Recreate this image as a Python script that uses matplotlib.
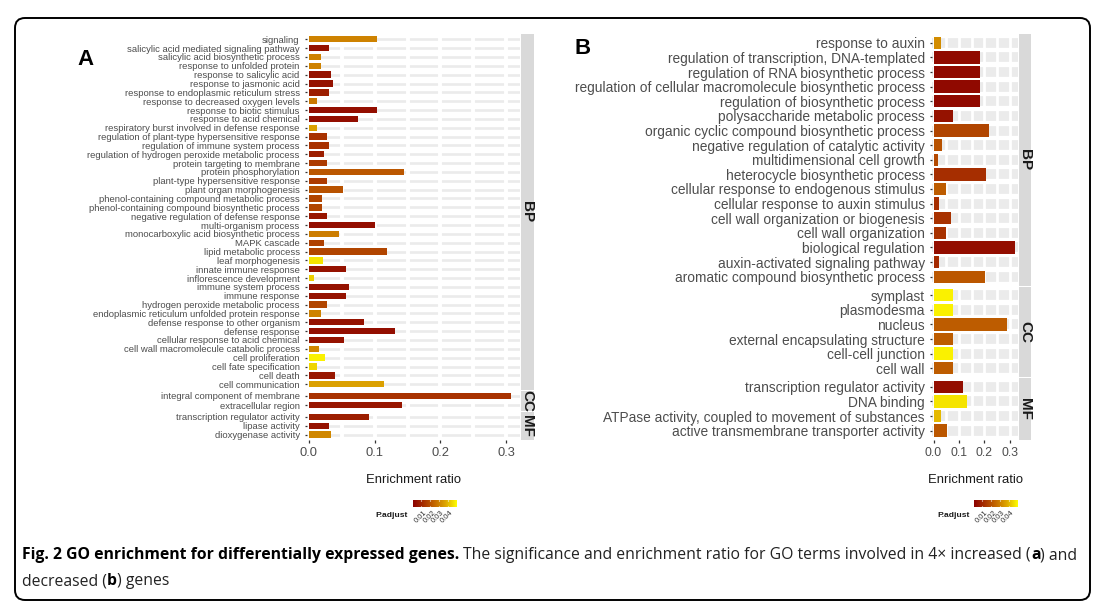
import numpy as np
import matplotlib
matplotlib.use("Agg")
import matplotlib.pyplot as plt
from matplotlib.colors import LinearSegmentedColormap, Normalize
from matplotlib.patches import FancyBboxPatch
from matplotlib.transforms import blended_transform_factory

W, H = 1105, 615

# ---- panel A (4x increased genes) ----
a_bp_terms = ["signaling", "salicylic acid mediated signaling pathway",
              "salicylic acid biosynthetic process", "response to unfolded protein",
              "response to salicylic acid", "response to jasmonic acid",
              "response to endoplasmic reticulum stress", "response to decreased oxygen levels",
              "response to biotic stimulus", "response to acid chemical",
              "respiratory burst involved in defense response",
              "regulation of plant-type hypersensitive response",
              "regulation of immune system process",
              "regulation of hydrogen peroxide metabolic process",
              "protein targeting to membrane", "protein phosphorylation",
              "plant-type hypersensitive response", "plant organ morphogenesis",
              "phenol-containing compound metabolic process",
              "phenol-containing compound biosynthetic process",
              "negative regulation of defense response", "multi-organism process",
              "monocarboxylic acid biosynthetic process", "MAPK cascade",
              "lipid metabolic process", "leaf morphogenesis", "innate immune response",
              "inflorescence development", "immune system process", "immune response",
              "hydrogen peroxide metabolic process",
              "endoplasmic reticulum unfolded protein response",
              "defense response to other organism", "defense response",
              "cellular response to acid chemical",
              "cell wall macromolecule catabolic process", "cell proliferation",
              "cell fate specification", "cell death", "cell communication"]
a_bp_ratio = [0.103, 0.031, 0.018, 0.018, 0.033, 0.037, 0.031, 0.012, 0.103, 0.075,
              0.012, 0.028, 0.031, 0.023, 0.028, 0.145, 0.028, 0.051, 0.020, 0.020,
              0.028, 0.100, 0.045, 0.023, 0.119, 0.022, 0.056, 0.008, 0.061, 0.056,
              0.028, 0.018, 0.083, 0.131, 0.053, 0.015, 0.025, 0.012, 0.039, 0.114]
a_bp_padj = [0.030, 0.005, 0.030, 0.030, 0.005, 0.005, 0.008, 0.028, 0.004, 0.004,
             0.036, 0.013, 0.013, 0.008, 0.015, 0.021, 0.015, 0.020, 0.017, 0.017,
             0.006, 0.004, 0.029, 0.016, 0.017, 0.046, 0.005, 0.043, 0.005, 0.005,
             0.017, 0.030, 0.005, 0.004, 0.005, 0.031, 0.048, 0.044, 0.006, 0.036]

a_cc_terms = ["integral component of membrane", "extracellular region"]
a_cc_ratio = [0.308, 0.142]
a_cc_padj = [0.013, 0.006]

a_mf_terms = ["transcription regulator activity", "lipase activity", "dioxygenase activity"]
a_mf_ratio = [0.091, 0.030, 0.033]
a_mf_padj = [0.008, 0.005, 0.031]

# ---- panel B (decreased genes) ----
b_bp_terms = ["response to auxin", "regulation of transcription, DNA-templated",
              "regulation of RNA biosynthetic process",
              "regulation of cellular macromolecule biosynthetic process",
              "regulation of biosynthetic process", "polysaccharide metabolic process",
              "organic cyclic compound biosynthetic process",
              "negative regulation of catalytic activity", "multidimensional cell growth",
              "heterocycle biosynthetic process", "cellular response to endogenous stimulus",
              "cellular response to auxin stimulus", "cell wall organization or biogenesis",
              "cell wall organization", "biological regulation",
              "auxin-activated signaling pathway", "aromatic compound biosynthetic process"]
b_bp_ratio = [0.028, 0.183, 0.183, 0.183, 0.183, 0.078, 0.218, 0.035, 0.016, 0.208,
              0.048, 0.023, 0.068, 0.048, 0.322, 0.023, 0.201]
b_bp_padj = [0.032, 0.003, 0.003, 0.003, 0.003, 0.005, 0.017, 0.020, 0.018, 0.012,
             0.022, 0.012, 0.013, 0.013, 0.004, 0.011, 0.021]

b_cc_terms = ["symplast", "plasmodesma", "nucleus", "external encapsulating structure",
              "cell-cell junction", "cell wall"]
b_cc_ratio = [0.075, 0.075, 0.288, 0.075, 0.075, 0.075]
b_cc_padj = [0.048, 0.048, 0.022, 0.022, 0.048, 0.022]

b_mf_terms = ["transcription regulator activity", "DNA binding",
              "ATPase activity, coupled to movement of substances",
              "active transmembrane transporter activity"]
b_mf_ratio = [0.117, 0.130, 0.029, 0.054]
b_mf_padj = [0.004, 0.046, 0.040, 0.021]

x_ticks = [0.0, 0.1, 0.2, 0.3]
legend_ticks = [0.01, 0.02, 0.03, 0.04]

plt.rcParams['font.family'] = ['Liberation Sans', 'DejaVu Sans']

cmap = LinearSegmentedColormap.from_list(
    'padj', ['#8b0000', '#a83200', '#c46a00', '#dea800', '#ffff00'])
norm = Normalize(vmin=0.0005, vmax=0.05)

fig = plt.figure(figsize=(W / 100, H / 100), dpi=100)
fig.patch.set_facecolor('white')


def px_axes(l, t, r, b):
    return fig.add_axes([l / W, 1 - b / H, (r - l) / W, (b - t) / H])


def draw_facet(box, strip, terms, ratio, padj, xlim, label, bar_h, band_lw,
               vline_lw, ysize, show_x, xsize):
    ax = px_axes(*box)
    n = len(terms)
    y = np.arange(n)
    ax.set_xlim(*xlim)
    ax.set_ylim(n - 0.4, -0.6)
    ax.hlines(y, xlim[0], xlim[1], color='#ebebeb', lw=band_lw, zorder=0)
    ax.vlines(np.arange(0, xlim[1], 0.05), -0.6, n - 0.4, color='white',
              lw=vline_lw, zorder=0.5)
    ax.barh(y, ratio, height=bar_h, color=cmap(norm(np.array(padj))), zorder=2)
    for s in ax.spines.values():
        s.set_visible(False)
    ax.set_yticks(y)
    ax.set_yticklabels(terms, fontsize=ysize, color='#4d4d4d')
    ax.tick_params(axis='y', length=1.8, width=0.9, color='#333333', pad=3.5)
    ax.set_xticks(x_ticks)
    if show_x:
        ax.set_xticklabels(['%.1f' % v for v in x_ticks], fontsize=xsize,
                           color='#4d4d4d')
        ax.tick_params(axis='x', length=1.8, width=0.9, color='#333333', pad=3.5)
    else:
        ax.tick_params(axis='x', length=0, labelbottom=False)
    sx = px_axes(*strip)
    sx.set_facecolor('#d9d9d9')
    sx.set_xticks([])
    sx.set_yticks([])
    for s in sx.spines.values():
        s.set_visible(False)
    sx.text(0.5, 0.5, label, rotation=270, ha='center', va='center',
            fontsize=11, fontweight='bold', color='#1a1a1a', transform=sx.transAxes)
    return ax


# panel A facets
xa = (-0.003, 0.321)
draw_facet((307, 34, 520, 389.5), (521, 34, 534, 389.5), a_bp_terms, a_bp_ratio,
           a_bp_padj, xa, 'BP', 0.72, 1.9, 2.8, 6.8, False, 9.3)
draw_facet((307, 390.5, 520, 410.5), (521, 390.5, 534, 410.5), a_cc_terms, a_cc_ratio,
           a_cc_padj, xa, 'CC', 0.72, 1.9, 2.8, 6.8, False, 9.3)
draw_facet((307, 411.5, 520, 440), (521, 411.5, 534, 440), a_mf_terms, a_mf_ratio,
           a_mf_padj, xa, 'MF', 0.72, 1.9, 2.8, 6.8, True, 9.3)

# panel B facets
xb = (-0.006, 0.333)
draw_facet((932, 34, 1018, 285.5), (1019, 34, 1031, 285.5), b_bp_terms, b_bp_ratio,
           b_bp_padj, xb, 'BP', 0.85, 7.0, 2.0, 9.9, False, 8.8)
draw_facet((932, 286.5, 1018, 377), (1019, 286.5, 1031, 377), b_cc_terms, b_cc_ratio,
           b_cc_padj, xb, 'CC', 0.85, 7.0, 2.0, 9.9, False, 8.8)
draw_facet((932, 378, 1018, 439.5), (1019, 378, 1031, 439.5), b_mf_terms, b_mf_ratio,
           b_mf_padj, xb, 'MF', 0.85, 7.0, 2.0, 9.9, True, 8.8)

# axis titles and panel letters
fig.text(413.5 / W, 1 - 480 / H, 'Enrichment ratio', ha='center', va='center',
         fontsize=9.4, color='#1a1a1a')
fig.text(975 / W, 1 - 480 / H, 'Enrichment ratio', ha='center', va='center',
         fontsize=9.4, color='#1a1a1a')
fig.text(86 / W, 1 - 59.5 / H, 'A', ha='center', va='center', fontsize=16,
         fontweight='bold', color='black')
fig.text(583 / W, 1 - 49 / H, 'B', ha='center', va='center', fontsize=16,
         fontweight='bold', color='black')


def draw_legend(l, r, title_right):
    cax = px_axes(l, 500, r, 507)
    vals = np.linspace(norm.vmin, norm.vmax, 256)
    cax.imshow(vals[None, :], cmap=cmap, norm=norm, aspect='auto',
               extent=[norm.vmin, norm.vmax, 0, 1])
    cax.set_xlim(norm.vmin, norm.vmax)
    cax.set_ylim(0, 1)
    cax.axis('off')
    cax.vlines(legend_ticks, 0, 0.2, color='white', lw=0.8)
    cax.vlines(legend_ticks, 0.8, 1, color='white', lw=0.8)
    tr = blended_transform_factory(cax.transData, cax.transAxes)
    for v in legend_ticks:
        cax.text(v + 0.002, -0.35, '%.2f' % v, rotation=45, ha='right', va='top',
                 rotation_mode='anchor', fontsize=5.5, color='#333333', transform=tr)
    fig.text(title_right / W, 1 - 515.5 / H, 'P.adjust', ha='right', va='center',
             fontsize=6.1, fontweight='bold', color='#1a1a1a')


draw_legend(413, 457, 408)
draw_legend(974, 1018, 970)

# caption
cap_font = ['Liberation Sans Narrow', 'Open Sans', 'DejaVu Sans']
renderer = fig.canvas.get_renderer()


def draw_runs(runs, x, y, size):
    texts = []
    space = None
    for s, w in runs:
        if s == ' ':
            if space is None:
                t1 = fig.text(0, 0, 'x x', fontsize=size, family=cap_font)
                t2 = fig.text(0, 0, 'xx', fontsize=size, family=cap_font)
                space = (t1.get_window_extent(renderer).width
                         - t2.get_window_extent(renderer).width)
                t1.remove()
                t2.remove()
            x += space
            continue
        t = fig.text(x / W, 1 - y / H, s, fontsize=size, fontweight=w,
                     family=cap_font, ha='left', va='center',
                     color='black' if w == 'bold' else '#222222')
        x += t.get_window_extent(renderer).width
        texts.append(t)
    return texts, x


line1 = [("Fig. 2 GO enrichment for differentially expressed genes.", 'bold'), (' ', ''),
         ("The significance and enrichment ratio for GO terms involved in 4\u00d7 increased (",
          'normal'), ("a", 'bold'), (") and", 'normal')]
line2 = [("decreased (", 'normal'), ("b", 'bold'), (") genes", 'normal')]

size0 = 11
tx, end = draw_runs(line1, 22, 555, size0)
for t in tx:
    t.remove()
size = size0 * (1076 - 22) / (end - 22)
draw_runs(line1, 22, 555, size)
draw_runs(line2, 22, 581, size)

# rounded frame
frame = FancyBboxPatch((0.15, 0.15), 10.75, 5.82,
                       boxstyle='round,pad=0,rounding_size=0.1',
                       transform=fig.dpi_scale_trans, fill=False, lw=1.4,
                       ec='black')
fig.patches.append(frame)

fig.savefig('out.png', dpi=100, facecolor='white')
